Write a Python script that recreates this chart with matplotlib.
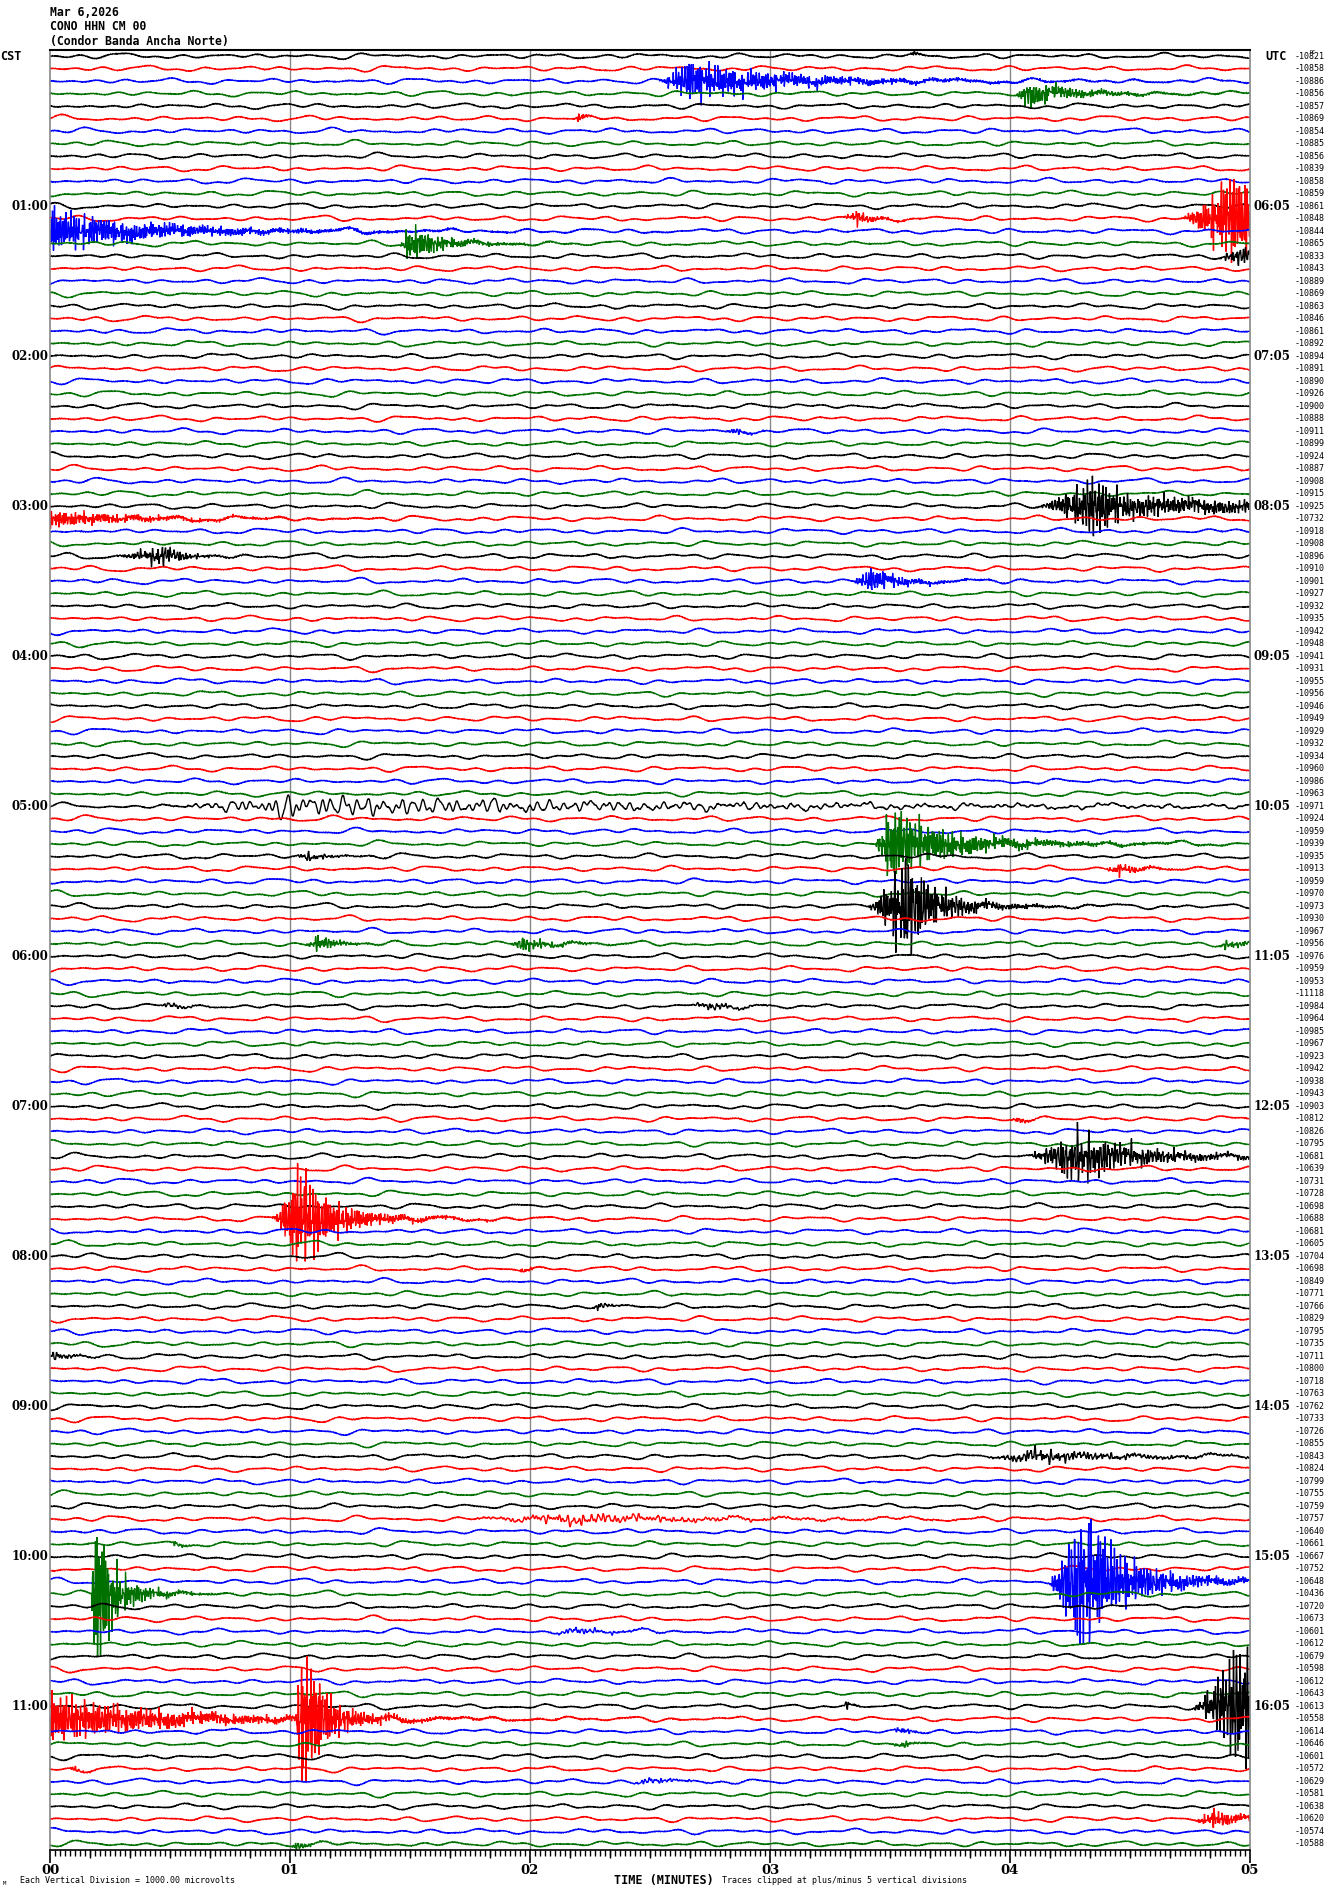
import numpy as np
import matplotlib
matplotlib.use("Agg")
import matplotlib.pyplot as plt
from matplotlib.ticker import MultipleLocator, FixedLocator, FuncFormatter, NullFormatter

TRACE_COLORS = ["black", "red", "blue", "#007000"]
N_TRACES = 144          # 00:00 .. 11:55 CST, 5 minutes per line
LINE_MINUTES = 5.0
CLIP = 5.0              # traces clipped at +/- 5 vertical divisions

HOURS_CST = ["CST", "01:00", "02:00", "03:00", "04:00", "05:00", "06:00",
             "07:00", "08:00", "09:00", "10:00", "11:00"]
HOURS_UTC = ["UTC", "06:05", "07:05", "08:05", "09:05", "10:05", "11:05",
             "12:05", "13:05", "14:05", "15:05", "16:05"]

DC_LABELS = [
    -10821, -10858, -10886, -10856, -10857, -10869, -10854, -10885, -10856, -10839, -10858, -10859,
    -10861, -10848, -10844, -10865, -10833, -10843, -10889, -10869, -10863, -10846, -10861, -10892,
    -10894, -10891, -10890, -10926, -10900, -10888, -10911, -10899, -10924, -10887, -10908, -10915,
    -10925, -10732, -10918, -10908, -10896, -10910, -10901, -10927, -10932, -10935, -10942, -10948,
    -10941, -10931, -10955, -10956, -10946, -10949, -10929, -10932, -10934, -10960, -10986, -10963,
    -10971, -10924, -10959, -10939, -10935, -10913, -10959, -10970, -10973, -10930, -10967, -10956,
    -10976, -10959, -10953, -11118, -10984, -10964, -10985, -10967, -10923, -10942, -10938, -10943,
    -10903, -10812, -10826, -10795, -10681, -10639, -10731, -10728, -10698, -10688, -10681, -10605,
    -10704, -10698, -10849, -10771, -10766, -10829, -10795, -10735, -10711, -10800, -10718, -10763,
    -10762, -10733, -10726, -10855, -10843, -10824, -10799, -10755, -10759, -10757, -10640, -10661,
    -10667, -10752, -10648, -10436, -10720, -10673, -10601, -10612, -10679, -10598, -10612, -10643,
    -10613, -10558, -10614, -10646, -10601, -10572, -10629, -10581, -10638, -10620, -10574, -10588,
]

# seismic events: line index, onset / peak minute, peak amplitude (divisions),
# decay (minutes), carrier frequency (Hz)
EV_TRACE = [2, 3, 0, 5, 13, 13, 14, 15, 16, 30, 36, 36, 37, 40, 42, 60, 63, 64, 65,
            68, 71, 71, 71, 76, 76, 85, 88, 93, 97, 100, 104, 112, 117, 119,
            122, 123, 126, 132, 132, 133, 133, 134, 135, 137, 138, 141, 143]
EV_ONSET = [2.52, 4.02, 3.58, 2.18, 3.30, 4.70, 0.00, 1.45, 4.85, 2.80, 4.10, 4.45, 0.00, 0.25, 3.33, 0.42, 3.43, 1.00, 4.38,
            3.40, 1.05, 1.90, 4.85, 0.45, 2.65, 4.00, 4.05, 0.92, 1.95, 2.25, 0.00, 3.87, 1.67, 0.50,
            4.15, 0.17, 2.05, 3.30, 4.75, 0.00, 1.02, 3.50, 3.50, 0.08, 2.40, 4.75, 1.00]
EV_PEAK = [2.66, 4.07, 3.60, 2.20, 3.36, 4.92, 0.00, 1.50, 4.95, 2.85, 4.35, 4.60, 0.00, 0.47, 3.42, 1.00, 3.50, 1.08, 4.45,
           3.57, 1.12, 1.97, 4.90, 0.50, 2.75, 4.03, 4.28, 1.04, 1.97, 2.28, 0.02, 4.10, 2.20, 0.52,
           4.30, 0.19, 2.20, 3.32, 4.95, 0.00, 1.05, 3.55, 3.55, 0.10, 2.50, 4.85, 1.03]
EV_AMP = [1.2, 0.8, 0.2, 0.25, 0.45, 2.6, 1.3, 1.1, 0.5, 0.2, 1.8, 0.45, 0.5, 0.6, 0.75, 0.6, 2.3, 0.25, 0.35,
          3.2, 0.5, 0.45, 0.25, 0.2, 0.25, 0.25, 1.5, 3.3, 0.2, 0.25, 0.3, 0.4, 0.3, 0.2,
          4.8, 6.0, 0.2, 0.25, 3.6, 1.5, 6.0, 0.25, 0.25, 0.2, 0.2, 0.55, 0.3]
EV_DECAY = [0.30, 0.15, 0.02, 0.03, 0.06, 0.40, 0.32, 0.10, 0.30, 0.05, 0.12, 1.00, 0.30, 0.07, 0.10, 1.20, 0.18, 0.06, 0.08,
            0.09, 0.06, 0.10, 0.10, 0.05, 0.08, 0.03, 0.20, 0.10, 0.03, 0.04, 0.05, 0.30, 0.40, 0.03,
            0.12, 0.05, 0.12, 0.02, 0.30, 0.35, 0.06, 0.03, 0.03, 0.03, 0.08, 0.10, 0.04]
EV_FREQ = [2.2, 2.0, 2.0, 2.0, 1.8, 2.2, 2.4, 2.0, 1.5, 1.5, 1.8, 1.8, 2.2, 1.6, 2.0, 0.35, 2.2, 1.2, 1.8,
           1.8, 1.8, 1.6, 1.5, 1.0, 1.0, 1.5, 1.7, 2.2, 1.5, 1.2, 1.2, 1.2, 0.8, 1.5,
           2.0, 2.2, 1.0, 1.5, 1.8, 2.2, 2.2, 1.5, 1.5, 1.5, 1.0, 2.0, 1.8]


def background(i, t_sec):
    # smooth microseism wiggle plus fine jitter for line i
    periods = [6.3, 8.7, 11.9, 15.2, 21.7, 33.0]
    y = np.zeros_like(t_sec)
    for k, p in enumerate(periods):
        phase = (i * 7.31 + k * 2.17 + i * k * 0.913) % (2 * np.pi)
        y += np.sin(2 * np.pi * t_sec / p + phase)
    y *= 0.055
    y += 0.03 * np.sin(2 * np.pi * 1.93 * t_sec + i) * np.sin(2 * np.pi * 0.41 * t_sec + 2.0 * i)
    y += 0.025 * np.sin(2 * np.pi * 3.37 * t_sec + 0.7 * i) * np.sin(2 * np.pi * 0.23 * t_sec + 1.3 * i)
    y += 0.02 * np.sin(2 * np.pi * 2.71 * t_sec + 1.9 * i) * np.sin(2 * np.pi * 0.17 * t_sec + 0.4 * i)
    return y


def event_wave(t_min, onset, peak, amp, decay, freq, seed):
    env = np.zeros_like(t_min)
    if peak > onset:
        rise = (t_min >= onset) & (t_min < peak)
        env[rise] = amp * ((t_min[rise] - onset) / (peak - onset)) ** 1.5
    after = t_min >= peak
    dt = t_min[after] - peak
    env[after] = amp * (0.78 * np.exp(-dt / decay) + 0.22 * np.exp(-dt / (3 * decay)))
    t_sec = t_min * 60.0
    carrier = np.zeros_like(t_min)
    for k, m in enumerate([0.61, 0.83, 1.0, 1.27, 1.71]):
        carrier += np.sin(2 * np.pi * freq * m * t_sec + seed * (k + 1) * 1.37)
    carrier /= 2.2
    return env * carrier


def main():
    fig = plt.figure(figsize=(13.3, 18.94), dpi=100)
    W, H = 1330.0, 1894.0
    ax = fig.add_axes([50 / W, 44 / H, 1200 / W, 1800 / H])

    n_samples = 2400
    t_min = np.linspace(0, LINE_MINUTES, n_samples)
    t_sec = t_min * 60.0

    signals = [background(i, t_sec) for i in range(N_TRACES)]
    for j, tr in enumerate(EV_TRACE):
        signals[tr] = signals[tr] + event_wave(t_min, EV_ONSET[j], EV_PEAK[j], EV_AMP[j],
                                               EV_DECAY[j], EV_FREQ[j], j + 1)

    for i in range(N_TRACES):
        y = np.clip(signals[i], -CLIP, CLIP)
        ax.plot(t_min, -i + y, color=TRACE_COLORS[i % 4], lw=1.0, solid_joinstyle='miter')

    ax.set_xlim(0, LINE_MINUTES)
    ax.set_ylim(-(N_TRACES - 1) - 0.48, 0.48)

    # minute grid lines
    for m in range(1, 5):
        ax.axvline(m, color='#888888', lw=1.0, zorder=0)

    for side in ['left', 'right']:
        ax.spines[side].set_color('#888888')
        ax.spines[side].set_linewidth(1.2)
    ax.spines['top'].set_linewidth(1.5)
    ax.spines['bottom'].set_linewidth(1.2)

    ax.yaxis.set_visible(False)
    ax.xaxis.set_major_locator(MultipleLocator(1))
    ax.xaxis.set_major_formatter(FuncFormatter(lambda v, p: f"{int(round(v)):02d}"))
    ax.xaxis.set_minor_locator(MultipleLocator(1 / 48))
    ax.tick_params(axis='x', which='major', length=9, width=1.2, pad=1, direction='out')
    ax.tick_params(axis='x', which='minor', length=4, width=1.0, direction='out')
    for lab in ax.get_xticklabels():
        lab.set_fontfamily('DejaVu Serif')
        lab.set_fontweight('bold')
        lab.set_fontsize(9.5)

    sec = ax.secondary_xaxis('bottom')
    sec.xaxis.set_major_locator(FixedLocator([k / 6 for k in range(31) if k % 6 != 0]))
    sec.xaxis.set_major_formatter(NullFormatter())
    sec.tick_params(axis='x', length=6, width=1.0, direction='out')
    sec.spines['bottom'].set_visible(False)

    # hour labels and DC offsets
    for h in range(12):
        i = h * 12
        if h == 0:
            ax.text(-50 / 240, -i, HOURS_CST[h], ha='left', va='center', fontsize=8.5,
                    fontfamily='DejaVu Sans Mono', fontweight='bold', clip_on=False)
            ax.text(5 + 15 / 240, -i, HOURS_UTC[h], ha='left', va='center', fontsize=8.5,
                    fontfamily='DejaVu Sans Mono', fontweight='bold', clip_on=False)
        else:
            ax.text(-2 / 240, -i, HOURS_CST[h], ha='right', va='center', fontsize=8.5,
                    fontfamily='DejaVu Serif', fontweight='bold', clip_on=False)
            ax.text(5 + 4 / 240, -i, HOURS_UTC[h], ha='left', va='center', fontsize=8.5,
                    fontfamily='DejaVu Serif', fontweight='bold', clip_on=False)
    for i, dc in enumerate(DC_LABELS):
        ax.text(5 + 45 / 240, -i, f"{dc}", ha='left', va='center', fontsize=6,
                fontfamily='DejaVu Sans Mono', clip_on=False)
    ax.text(5 + 60 / 240, 0.3, "DC", ha='left', va='center', fontsize=4,
            fontfamily='DejaVu Sans Mono', clip_on=False)

    # header
    for k, line in enumerate(["Mar 6,2026", "CONO HHN CM 00", "(Condor Banda Ancha Norte)"]):
        fig.text(50 / W, 1 - (12 + 14.5 * k) / H, line, ha='left', va='center', fontsize=8.3,
                 fontfamily='DejaVu Sans Mono', fontweight='bold')

    # footer
    fig.text(3 / W, 1 - 1883 / H, "M", fontsize=4, ha='left', va='center', fontfamily='DejaVu Sans Mono')
    fig.text(20 / W, 1 - 1880 / H, "Each Vertical Division = 1000.00 microvolts", fontsize=6,
             ha='left', va='center', fontfamily='DejaVu Sans Mono')
    fig.text(614 / W, 1 - 1880 / H, "TIME (MINUTES)", fontsize=8.5, ha='left', va='center',
             fontfamily='DejaVu Sans Mono', fontweight='bold')
    fig.text(722 / W, 1 - 1880 / H, "Traces clipped at plus/minus 5 vertical divisions", fontsize=6,
             ha='left', va='center', fontfamily='DejaVu Sans Mono')

    fig.savefig("out.png", dpi=100, facecolor='white')


if __name__ == '__main__':
    main()
